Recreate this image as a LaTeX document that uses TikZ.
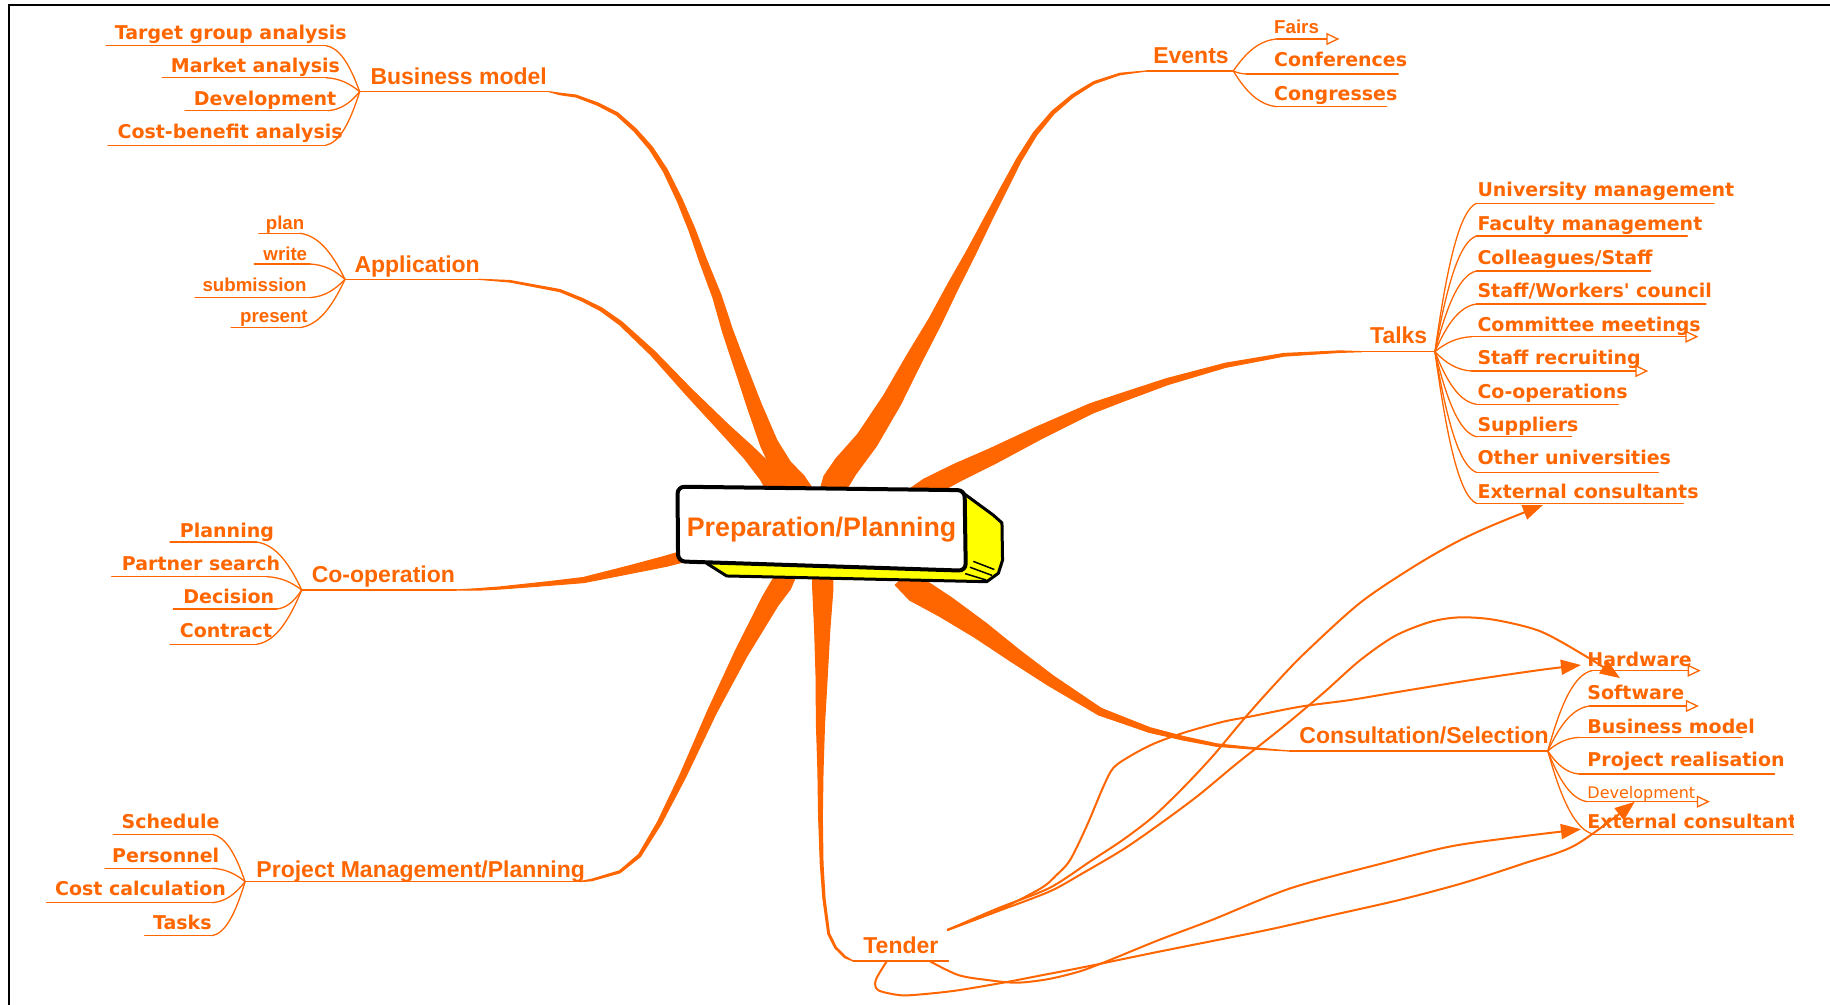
\documentclass[tikz,border=0pt]{standalone}
\usepackage{fontspec}
\usetikzlibrary{calc,arrows.meta}
\newfontfamily\labelsans{Liberation Sans}
\newfontfamily\leafsans{DejaVu Sans}
\definecolor{mmorange}{HTML}{FF6600}
\definecolor{boxyellow}{HTML}{FFFF00}

\tikzset{
  hubtext/.style={anchor=base west, inner sep=0pt, text=mmorange,
    font=\labelsans\bfseries\fontsize{23}{26}\selectfont},
  leaftext/.style={anchor=base west, inner sep=0pt, text=mmorange,
    font=\leafsans\bfseries\fontsize{19}{22}\selectfont},
  smalltext/.style={anchor=base west, inner sep=0pt, text=mmorange,
    font=\labelsans\bfseries\fontsize{18.7}{21}\selectfont},
  thintext/.style={anchor=base west, inner sep=0pt, text=mmorange,
    font=\leafsans\fontsize{16}{19}\selectfont},
  twig/.style={draw=mmorange, line width=1.3pt, line cap=round, line join=round},
  openhead/.style={-{Triangle[open, length=13pt, width=12pt]}},
  bolt/.style={draw=mmorange, line width=2pt, line join=round,
    -{Triangle[length=20pt, width=15pt]}},
  limbfill/.style={fill=mmorange, draw=mmorange, line width=1.2pt, line join=round},
}

% tapered main branch: list of x/y/half-width, thin end first
\newcommand\organicbranch[1]{%
  \foreach \px/\py/\pw [count=\i, remember=\px as \lx (initially 0),
      remember=\py as \ly (initially 0)] in {#1}{%
    \ifnum\i=1
      \coordinate (limbL1) at (\px,\py);
      \coordinate (limbR1) at (\px,\py);
    \else
      \coordinate (limbL\i) at ($(\px,\py)!\pw pt!-90:(\lx,\ly)$);
      \coordinate (limbR\i) at ($(\px,\py)!\pw pt!90:(\lx,\ly)$);
    \fi
    \xdef\limbcount{\i}%
  }%
  \path[limbfill] (limbL1) \foreach \j in {2,...,\limbcount}{ -- (limbL\j)}
    \foreach \j in {\limbcount,...,2}{ -- (limbR\j)} -- cycle;
}

% leaf label with its underline: [line opts]{name}{style}{text}{x}{baseline}{x1}{x2}{line y}
\newcommand\leafitem[9][]{%
  \node[#3] (#2) at (#5,#6) {#4};
  \coordinate (#2-a) at (#7,#9);
  \coordinate (#2-b) at (#8,#9);
  \draw[twig,#1] (#2-a) -- (#2-b);
}

% curved twig from a leaf underline end to its hub
\newcommand\fanto[2]{%
  \draw[twig] let \p1=(#1), \p2=(#2) in (\p1)
    .. controls ({\x1+0.4*(\x2-\x1)},{\y1+0.05*(\y2-\y1)})
    and ({\x2-0.3*(\x2-\x1)},{\y2-0.6*(\y2-\y1)}) .. (\p2);
}

\begin{document}
\begin{tikzpicture}[x=1.1671pt, y=-1.1671pt]
\useasboundingbox (0,0) rectangle (1568,861);

% page frame
\draw[line width=2.4pt] (7.5,864) -- (7.5,4.3) -- (1570,4.3);

% ---------- main branches ----------
% Business model
\organicbranch{470.7/78.6/0, 479.8/80.5/0.7, 493.6/82.3/0.9, 511.9/89.1/1.1, 528.8/97.7/1.3,
  544.1/111.4/1.5, 557.8/127.1/1.8, 570.1/146.2/2.1, 582.3/171.4/2.5, 593/197.1/3,
  602.2/222.8/3.5, 614.4/254.2/4.2, 623.6/284.2/5, 634.3/314.2/5.8, 646.6/348.4/7,
  658.8/379.9/8.5, 669.5/399.8/10, 681.8/414.1/11, 690/428/12}
% Application
\organicbranch{410.4/239.3/0, 437/241/0.7, 479.8/249/1, 498.2/256.5/1.2, 515/265/1.5,
  531.8/277/1.8, 559.4/302.7/2.6, 590/335.6/3.8, 620.6/367/5.3, 642/388.4/7,
  657.3/405.6/9, 665/417/10, 670/428/10}
% Events
\organicbranch{982.5/60.8/0, 959.6/63.4/0.7, 937.3/70.8/1, 918.9/82.3/1.3, 902.1/96.5/1.6,
  886.8/114.8/2, 873/137.1/2.4, 861/160/3, 847/187/3.6, 831.7/217.1/4.5,
  816.4/245.6/5.5, 801.1/275.6/6.5, 782.7/308.5/8, 764.4/342.7/9.5, 743/377/11,
  724.6/399.8/12.5, 715.4/414.1/13, 712/428/13}
% Talks
\organicbranch{1166.7/301.3/0, 1148/301.3/0.7, 1100/304/1.3, 1050/313/2, 1000/327/3,
  960/341/4, 935/350/4.8, 890/371/6.3, 850/391/7.8, 820/405/8.8, 795/418/9.5, 785/425/9.5}
% Co-operation
\organicbranch{391/505.5/0, 410/505/0.7, 428.4/503.8/1, 470/500/1.8, 500/497/2.5,
  540/488/3.8, 570/481/5, 592/475/5.5}
% Project Management/Planning
\organicbranch{496.6/755.4/0, 507/754/0.7, 531/747/1, 548/733/1.4, 565/705/2, 585/665/3,
  610/610/4.3, 635/560/6.3, 660/515/8.8, 670/500/10, 675/488/10}
% Tender
\organicbranch{731/823.4/0, 724/820/0.7, 716/812/0.8, 710/800/0.9, 706/770/1, 704/740/1.3,
  703/700/1.8, 703/660/2.5, 703/620/4, 704/580/5.5, 704.5/540/7.5, 705/505/10, 705/490/10}
% Consultation/Selection
\organicbranch{1105/643.5/0, 1071/641/0.7, 1042.5/638.4/1.2, 1014/632.6/1.7, 985/625.5/2.3,
  962/617/2.9, 942.5/609.8/3.5, 900/583/5.3, 870/562/7, 840/540/9, 810/520/11,
  785/505/12.5, 775/494/12.5}

% ---------- central topic ----------
\draw[line width=3pt, fill=boxyellow, line join=round]
  (815,425) -- (826,423) -- (851,441.3) -- (858.5,448) -- (859,480) -- (855.4,491.2)
  -- (845.4,498.4) -- (622.6,493.5) -- (606,483) -- cycle;
\draw[line width=4pt, fill=white, rounded corners=7pt]
  (580.5,417) -- (826.5,420) -- (827.5,489) -- (581,481) -- cycle;
\draw[line width=1.5pt] (834,481) -- (852,488) (831,486) -- (850,493) (827,491.5) -- (845,497);
\node[anchor=base west, inner sep=0pt, text=mmorange,
  font=\labelsans\bfseries\fontsize{26.8}{30}\selectfont] (core) at (588.3,459.3)
  {Preparation/Planning};

% ---------- Business model ----------
\coordinate (bm) at (308.2,78.6);
\coordinate (bm-end) at (470.7,78.6);
\node[hubtext] (bmtext) at (317.3,72.3) {Business model};
\draw[twig] (bm) -- (bm-end);
\leafitem{tga}{leaftext}{Target group analysis}{98.2}{33.7}{90.8}{279.4}{39.1}
\leafitem{mkt}{leaftext}{Market analysis}{146.3}{62.3}{138.9}{279.4}{66.6}
\leafitem{bdev}{leaftext}{Development}{166}{90.8}{158.5}{281.1}{94.8}
\leafitem{cba}{leaftext}{Cost-benefit analysis}{100.6}{118.5}{92.5}{279}{124.5}
\fanto{tga-b}{bm}
\fanto{mkt-b}{bm}
\fanto{bdev-b}{bm}
\fanto{cba-b}{bm}

% ---------- Application ----------
\coordinate (app) at (295.6,239.3);
\coordinate (app-end) at (410.4,239.3);
\node[hubtext] (apptext) at (303.6,233.6) {Application};
\draw[twig] (app) -- (app-end);
\leafitem{plan}{smalltext}{plan}{227.6}{196.5}{221.6}{257}{199.9}
\leafitem{write}{smalltext}{write}{225.6}{223.3}{217.9}{265.6}{226.2}
\leafitem{subm}{smalltext}{submission}{173.4}{249.9}{167.1}{265.6}{255}
\leafitem{pres}{smalltext}{present}{205.6}{276.5}{198}{257}{280.7}
\fanto{plan-b}{app}
\fanto{write-b}{app}
\fanto{subm-b}{app}
\fanto{pres-b}{app}

% ---------- Co-operation ----------
\coordinate (coop) at (258.5,505.5);
\coordinate (coop-end) at (391,505.5);
\node[hubtext] (cooptext) at (267,499.2) {Co-operation};
\draw[twig] (coop) -- (coop-end);
\leafitem{cpl}{leaftext}{Planning}{154}{460.4}{145.7}{220}{464.5}
\leafitem{psr}{leaftext}{Partner search}{104.3}{489.2}{95.7}{228.5}{494.1}
\leafitem{dec}{leaftext}{Decision}{157}{517.5}{148.5}{237}{521.8}
\leafitem{con}{leaftext}{Contract}{154}{546}{145.7}{220}{552}
\fanto{cpl-b}{coop}
\fanto{psr-b}{coop}
\fanto{dec-b}{coop}
\fanto{con-b}{coop}

% ---------- Project Management/Planning ----------
\coordinate (pm) at (210,755.4);
\coordinate (pm-end) at (496.6,755.4);
\node[hubtext] (pmtext) at (219.6,751.7) {Project Management/Planning};
\draw[twig] (pm) -- (pm-end);
\leafitem{sch}{leaftext}{Schedule}{104}{709.7}{97}{182}{714.9}
\leafitem{pers}{leaftext}{Personnel}{96}{739}{90}{182}{744}
\leafitem{cost}{leaftext}{Cost calculation}{47}{767.7}{40}{182}{773.4}
\leafitem{task}{leaftext}{Tasks}{131}{796.3}{124}{182}{801.7}
\fanto{sch-b}{pm}
\fanto{pers-b}{pm}
\fanto{cost-b}{pm}
\fanto{task-b}{pm}

% ---------- Events ----------
\coordinate (ev) at (1056.7,60.8);
\coordinate (ev-start) at (982.5,60.8);
\node[hubtext] (evtext) at (988,54.3) {Events};
\draw[twig] (ev-start) -- (ev);
\leafitem[openhead]{fairs}{smalltext}{Fairs}{1091.6}{28.6}{1094}{1147.6}{33.4}
\leafitem{conf}{leaftext}{Conferences}{1091.6}{57.1}{1068}{1198}{63.4}
\leafitem{cong}{leaftext}{Congresses}{1091.6}{85.7}{1094}{1188}{91.4}
\fanto{fairs-a}{ev}
\fanto{conf-a}{ev}
\fanto{cong-a}{ev}

% ---------- Talks ----------
\coordinate (talks) at (1229.5,301.3);
\coordinate (talks-start) at (1166.7,301.3);
\node[hubtext] (talkstext) at (1173.8,294.2) {Talks};
\draw[twig] (talks-start) -- (talks);
\leafitem{um}{leaftext}{University management}{1265.8}{168.5}{1265}{1468.6}{174.2}
\leafitem{fm}{leaftext}{Faculty management}{1265.8}{197.6}{1265}{1445.7}{202.2}
\leafitem{cs}{leaftext}{Colleagues/Staff}{1265.8}{226.5}{1265}{1414.3}{232.2}
\leafitem{swc}{leaftext}{Staff/Workers\textquotesingle\ council}{1265.8}{254.8}{1265}{1461.7}{260.5}
\leafitem[openhead]{cm}{leaftext}{Committee meetings}{1265.8}{284.2}{1261}{1455.2}{288.5}
\leafitem[openhead]{sr}{leaftext}{Staff recruiting}{1265.8}{312.2}{1261}{1412.3}{317.9}
\leafitem{cop}{leaftext}{Co-operations}{1265.8}{341.3}{1265}{1386.6}{346.4}
\leafitem{sup}{leaftext}{Suppliers}{1265.8}{369.9}{1265}{1346.6}{374.2}
\leafitem{ou}{leaftext}{Other universities}{1265.8}{398.4}{1265}{1420.9}{404.7}
\leafitem{ec}{leaftext}{External consultants}{1265.8}{427}{1265}{1442.3}{431.3}
\foreach \leafname in {um,fm,cs,swc,cm,sr,cop,sup,ou,ec}{\fanto{\leafname-a}{talks}}

% ---------- Consultation/Selection ----------
\coordinate (cons) at (1326.2,643.5);
\coordinate (cons-start) at (1105,643.5);
\node[hubtext] (constext) at (1113.2,636.9) {Consultation/Selection};
\draw[twig] (cons-start) -- (cons);
\leafitem[openhead]{hw}{leaftext}{Hardware}{1360}{571.2}{1364}{1457.2}{574.6}
\leafitem[openhead]{sw}{leaftext}{Software}{1360}{599.2}{1362}{1455.6}{604.9}
\leafitem{cbm}{leaftext}{Business model}{1360}{628.4}{1353}{1492.6}{631.8}
\leafitem{pr}{leaftext}{Project realisation}{1360}{657}{1353}{1520.5}{663.2}
\leafitem[openhead]{cdev}{thintext}{Development}{1360}{684}{1360}{1465.1}{686.9}
\begin{scope}
  \clip (0,0) rectangle (1537,861);
  \leafitem{xcs}{leaftext}{External consultant}{1360}{709.7}{1365.8}{1536}{714.9}
\end{scope}
\foreach \leafname in {hw,sw,cbm,pr,cdev,xcs}{\fanto{\leafname-a}{cons}}

% ---------- Tender ----------
\node[hubtext] (tender) at (739.6,816.9) {Tender};
\coordinate (tnd-a) at (731,823.4);
\coordinate (tnd-b) at (812.7,823.4);
\draw[twig] (tnd-a) -- (tnd-b);
\coordinate (tender-out) at (811.6,796.9);
\coordinate (tender-low1) at (796.3,823.4);
\coordinate (tender-low2) at (760,823.4);
\coordinate (hw-in) at (1354.6,569.8);
\coordinate (ec-in) at (1322,432.7);
\coordinate (hwsw-in) at (1388,581);
\coordinate (xcs-in) at (1354.6,710.5);
\coordinate (cdev-in) at (1400.7,687);

\draw[bolt] plot[smooth, tension=0.5] coordinates {(tender-out) (855.6,779.7) (892,761)
  (905.3,749.7) (916.8,737) (931,708) (945.4,674) (953.9,658) (968,648) (988,637.5)
  (1013.7,628) (1048,618.4) (1071,614) (1114,605.5) (1156.7,599.8) (1199.5,592.6)
  (1261,582.6) (1320,574) (hw-in)};
\draw[bolt] plot[smooth, tension=0.5] coordinates {(tender-out) (855.6,778) (899.6,760.6)
  (935.7,737) (962,719.7) (988,699.8) (1013.7,675) (1039,648) (1065,617) (1088,591)
  (1116.5,561) (1165,516.8) (1211,485.7) (1248,464.4) (1279.5,449.8) (ec-in)};
\draw[bolt] plot[smooth, tension=0.5] coordinates {(tender-out) (855.6,780.5) (899.6,763.7)
  (928,748) (962,728) (991,708) (1025.4,682.6) (1060,654) (1099.6,622.6) (1133.6,594)
  (1165,566) (1195,545) (1225,533) (1250,529) (1280,531) (1320,541) (1360,563)
  (hwsw-in)};
\draw[bolt] plot[smooth, tension=0.5] coordinates {(tender-low1) (821,835.4) (846,839.7)
  (871,842) (897.7,839) (924.5,832.5) (947.4,824) (993,805.4) (1039,788) (1106,761)
  (1185,739.6) (1242,725.4) (1293,718) (xcs-in)};
\draw[bolt] plot[smooth, tension=0.5] coordinates {(tender-low2) (750.4,839.7) (752.3,848.3)
  (769.5,852.5) (783,852.5) (817.4,849) (859.4,842) (893.7,835.4) (932,828) (993,815.4)
  (1084.8,797) (1142,784) (1199.5,771) (1253.5,756.6) (1305,740) (1350,724) (cdev-in)};
\end{tikzpicture}
\end{document}
